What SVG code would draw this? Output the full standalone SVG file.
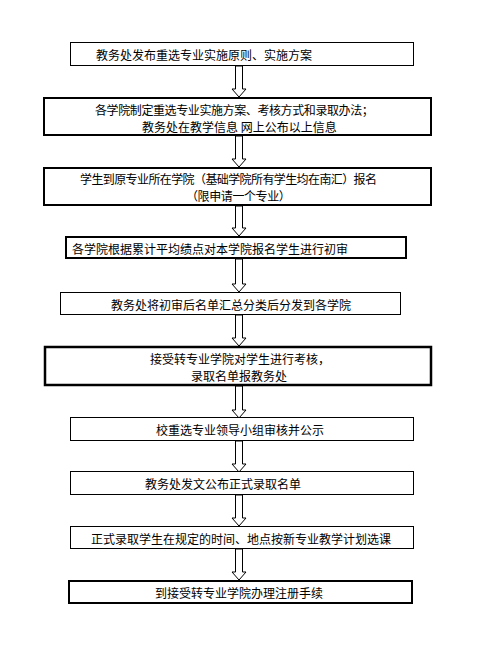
<svg xmlns="http://www.w3.org/2000/svg" width="477" height="647" viewBox="0 0 477 647">
<style>
.box{fill:#fff;stroke:#000;stroke-width:1}
.thick{stroke-width:2}
.t{font-family:"Noto Sans CJK SC","Noto Sans",sans-serif;font-size:12px;fill:#000;dominant-baseline:central}
.arr{fill:#fff;stroke:#000;stroke-width:1}
</style>
<rect width="477" height="647" fill="#fff"/>
<g id="connectors">
<polygon class="arr" points="235.5,66 235.5,89 232,89 239,97 246,89 242.5,89 242.5,66"/>
<polygon class="arr" points="235.5,136 235.5,159 232,159 239,167 246,159 242.5,159 242.5,136"/>
<polygon class="arr" points="235.5,206 235.5,228 232,228 239,236 246,228 242.5,228 242.5,206"/>
<polygon class="arr" points="235.5,259 235.5,284 232,284 239,292 246,284 242.5,284 242.5,259"/>
<polygon class="arr" points="235.5,315 235.5,338 232,338 239,346 246,338 242.5,338 242.5,315"/>
<polygon class="arr" points="235.5,386 235.5,410 232,410 239,418 246,410 242.5,410 242.5,386"/>
<polygon class="arr" points="235.5,441 235.5,464 232,464 239,472 246,464 242.5,464 242.5,441"/>
<polygon class="arr" points="235.5,495 235.5,518 232,518 239,526 246,518 242.5,518 242.5,495"/>
<polygon class="arr" points="235.5,549 235.5,572 232,572 239,580 246,572 242.5,572 242.5,549"/>
</g>
<g id="n1"><rect class="box" x="70.5" y="42.5" width="343" height="23"/><text class="t" x="96" y="54">教务处发布重选专业实施原则、实施方案</text></g>
<g id="n2"><rect class="box thick" x="44" y="98" width="387" height="37"/><text class="t" x="95" y="109" letter-spacing="-0.4">各学院制定重选专业实施方案、考核方式和录取办法；</text><text class="t" x="142" y="126">教务处在教学信息 网上公布以上信息</text></g>
<g id="n3"><rect class="box thick" x="44" y="168" width="387" height="37"/><text class="t" x="80" y="178.5" letter-spacing="-0.6">学生到原专业所在学院（基础学院所有学生均在南汇）报名</text><text class="t" x="186" y="195.5" letter-spacing="-0.4">（限申请一个专业）</text></g>
<g id="n4"><rect class="box thick" x="66" y="237" width="340" height="21"/><text class="t" x="72" y="248">各学院根据累计平均绩点对本学院报名学生进行初审</text></g>
<g id="n5"><rect class="box" x="60.5" y="292.5" width="340" height="22"/><text class="t" x="111" y="304">教务处将初审后名单汇总分类后分发到各学院</text></g>
<g id="n6"><rect class="box" style="stroke-width:2.5" x="45" y="347" width="386" height="38"/><text class="t" x="150" y="358">接受转专业学院对学生进行考核，</text><text class="t" x="191" y="375">录取名单报教务处</text></g>
<g id="n7"><rect class="box" x="70.5" y="417.5" width="343" height="23"/><text class="t" x="156" y="429">校重选专业领导小组审核并公示</text></g>
<g id="n8"><rect class="box" x="70.5" y="471.5" width="343" height="23"/><text class="t" x="145" y="483">教务处发文公布正式录取名单</text></g>
<g id="n9"><rect class="box" x="70.5" y="526.5" width="343" height="22"/><text class="t" x="91" y="538">正式录取学生在规定的时间、地点按新专业教学计划选课</text></g>
<g id="n10"><rect class="box thick" x="69" y="581" width="343" height="22"/><text class="t" x="155" y="592">到接受转专业学院办理注册手续</text></g>
</svg>
